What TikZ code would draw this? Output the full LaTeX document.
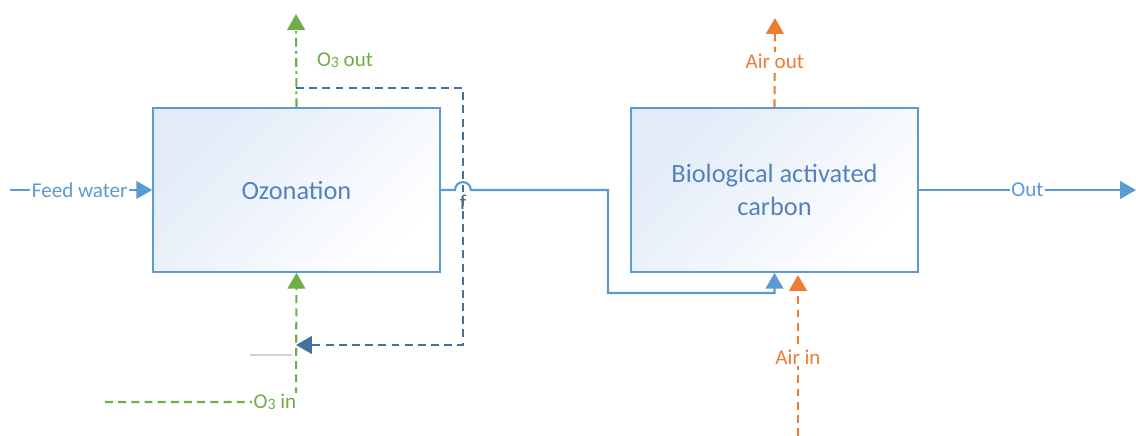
\documentclass[tikz,border=0pt]{standalone}
\usepackage{fontspec}
\setmainfont{Carlito}
\usetikzlibrary{arrows.meta}
\definecolor{boxline}{RGB}{91,155,213}
\definecolor{boxtext}{RGB}{84,130,190}
\definecolor{boxfill}{RGB}{226,235,248}
\definecolor{ozgreen}{RGB}{112,173,71}
\definecolor{airorange}{RGB}{237,125,49}
\definecolor{recblue}{RGB}{65,113,156}
\newcommand{\othree}{O\raisebox{-0.4pt}{\fontsize{9}{10}\selectfont 3}}
\tikzset{
  unit/.style={draw=boxline, line width=0.9pt, top color=boxfill, bottom color=white,
    shading angle=45, minimum width=5.74cm, minimum height=3.28cm, text=boxtext,
    align=center, font=\fontsize{15}{18.5}\selectfont},
  water/.style={draw=boxline, line width=1.2pt},
  gasline/.style={line width=1.2pt, dash pattern=on 4.5pt off 3pt},
  tip/.style={-{Triangle[width=10pt,length=9pt]}},
  lbl/.style={fill=white, inner sep=1pt, font=\fontsize{12}{14}\selectfont},
}
\begin{document}
\begin{tikzpicture}[x=0.02cm,y=-0.02cm]
  \useasboundingbox (0,0) rectangle (1136,436);
  \node[unit] (ozon) at (296.5,190) {Ozonation};
  \node[unit] (bac) at (774.5,190) {Biological activated\\carbon};
  \coordinate (feed) at (10,190);
  \coordinate (outend) at (1136,190);
  \draw[water,tip] (feed) -- node[lbl,text=boxline,pos=0.49] (feedlbl) {Feed water} (ozon.west);
  \draw[water,tip] (bac.east) -- node[lbl,text=boxline] (outlbl) {Out} (outend);
  \draw[water,tip] (ozon.east) -- (455,190) arc[start angle=180,end angle=0,radius=4.5pt]
    -- (608,190) -- (608,293) -- (bac.south |- 0,293) -- (bac.south);
  \node[font=\fontsize{12}{14}\selectfont, text=black!65] (hoplbl) at (463,202) {f};
  % ozone loop
  \coordinate (o3top) at (296,14);
  \coordinate (o3feed) at (105,402);
  \draw[ozgreen,tip,line width=1.2pt,dash pattern=on 5pt off 2.5pt on 1.5pt off 2.5pt] (ozon.north) -- (o3top);
  \node[font=\fontsize{12}{14}\selectfont, text=ozgreen] (o3outlbl) at (345,60) {\othree{} out};
  \draw[recblue,gasline,tip] (296,88) -- (463,88) -- (463,345) -- (296,345);
  \draw[ozgreen,gasline,tip] (o3feed) -- (296,402) -- (ozon.south);
  \node[lbl,text=ozgreen] (o3inlbl) at (275,402) {\othree{} in};
  \draw[black!18,line width=0.6pt] (250,355) -- (292,355);
  % air
  \coordinate (airtop) at (775,18);
  \coordinate (airfeed) at (798,436);
  \draw[airorange,gasline,tip] (bac.north) -- node[lbl,text=airorange,pos=0.52] (airoutlbl) {Air out} (airtop);
  \draw[airorange,gasline,tip] (airfeed) -- node[lbl,text=airorange,pos=0.49] (airinlbl) {Air in} (798,275);
\end{tikzpicture}
\end{document}
